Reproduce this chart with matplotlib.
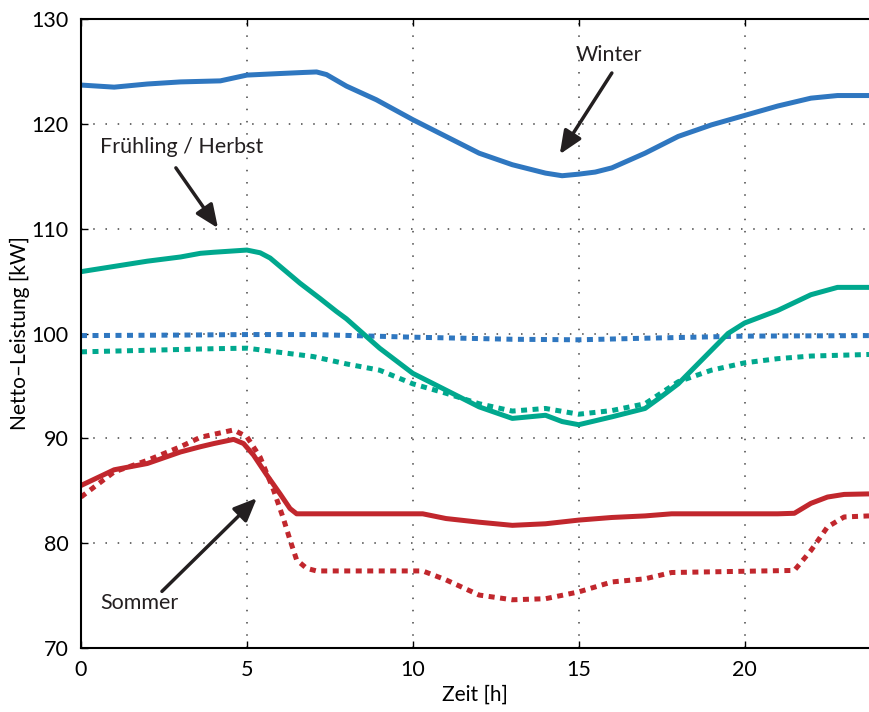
import numpy as np
import matplotlib.pyplot as plt

plt.rcParams['font.family'] = ['Lato', 'DejaVu Sans']

# Winter
winter_x = [0, 1, 2, 3, 4.2, 5, 6, 6.7, 7.1, 7.4, 8, 8.9, 10, 11, 12, 13, 14, 14.5, 15, 15.5, 16, 17, 18, 19, 20, 21, 22, 22.8, 23.75]
winter = [123.7, 123.5, 123.8, 124.0, 124.1, 124.65, 124.8, 124.9, 124.95, 124.7, 123.6, 122.3, 120.4, 118.8, 117.2, 116.1, 115.3, 115.05, 115.2, 115.4, 115.8, 117.2, 118.8, 119.9, 120.8, 121.7, 122.45, 122.7, 122.7]
winter_dot_x = [0, 3, 5, 7, 10, 13, 15, 17, 20, 23.75]
winter_dot = [99.8, 99.85, 99.9, 99.9, 99.65, 99.45, 99.4, 99.55, 99.75, 99.8]

# Frühling / Herbst
fh_x = [0, 1, 2, 3, 3.6, 4, 5, 5.4, 5.7, 6, 6.6, 7.2, 7.7, 8, 9, 10, 11, 12, 13, 13.5, 14, 14.5, 15, 16, 17, 17.5, 18, 19, 19.5, 20, 21, 22, 22.8, 23.75]
fh = [105.9, 106.4, 106.9, 107.3, 107.65, 107.75, 107.96, 107.7, 107.2, 106.4, 104.8, 103.35, 102.1, 101.4, 98.6, 96.2, 94.6, 93.0, 91.9, 92.05, 92.2, 91.6, 91.3, 92.05, 92.85, 94.0, 95.2, 98.4, 100.0, 101.0, 102.2, 103.7, 104.4, 104.4]
fh_dot_x = [0, 2, 4, 5, 6, 7, 8, 9, 10, 11, 12, 13, 14, 15, 16, 17, 18, 19, 20, 21, 22, 23.75]
fh_dot = [98.25, 98.4, 98.55, 98.6, 98.2, 97.8, 97.1, 96.5, 95.2, 94.3, 93.3, 92.6, 92.85, 92.3, 92.65, 93.3, 95.4, 96.5, 97.2, 97.6, 97.85, 98.0]

# Sommer
so_x = [0, 1, 2, 3, 3.6, 4, 4.6, 4.9, 5.2, 5.6, 6.0, 6.3, 6.5, 7, 10, 10.3, 11, 12, 13, 14, 15, 16, 17, 17.8, 21, 21.5, 22, 22.5, 23, 23.75]
so = [85.5, 87.0, 87.6, 88.7, 89.2, 89.5, 89.9, 89.5, 88.4, 86.5, 84.7, 83.3, 82.8, 82.8, 82.8, 82.8, 82.35, 82.0, 81.7, 81.85, 82.2, 82.45, 82.6, 82.8, 82.8, 82.85, 83.8, 84.4, 84.65, 84.7]
so_dot_x = [0, 1, 2, 3, 3.6, 4.6, 5.0, 5.4, 5.8, 6.1, 6.3, 6.5, 6.8, 7.1, 10.3, 11, 12, 13, 14, 15, 16, 17, 17.8, 21.5, 22, 22.5, 23, 23.75]
so_dot = [84.4, 86.8, 87.9, 89.2, 90.1, 90.8, 90.15, 88.2, 85.1, 82.35, 80.3, 78.4, 77.6, 77.35, 77.35, 76.5, 75.05, 74.6, 74.7, 75.35, 76.3, 76.6, 77.2, 77.4, 79.3, 81.55, 82.5, 82.6]

blue = '#2F77C0'
green = '#00A88E'
red = '#C1272D'
ink = '#231F20'

fig = plt.figure(figsize=(8.69, 7.12), dpi=100)
ax = fig.add_axes([0.0932, 0.0899, 0.9068, 0.8834])

lw = 3.6
dots = (0, (1.2, 1.1))
style = dict(lw=lw, solid_capstyle='butt', solid_joinstyle='round', dash_capstyle='butt')
ax.plot(winter_x, winter, color=blue, **style)
ax.plot(winter_dot_x, winter_dot, color=blue, ls=dots, **style)
ax.plot(fh_x, fh, color=green, **style)
ax.plot(fh_dot_x, fh_dot, color=green, ls=dots, **style)
ax.plot(so_x, so, color=red, **style)
ax.plot(so_dot_x, so_dot, color=red, ls=dots, **style)

arrow = dict(arrowstyle='-|>,head_length=1.4,head_width=0.6', color=ink, lw=2.5, shrinkA=0, shrinkB=0)
ax.annotate('', xy=(14.43, 117.1), xytext=(16.0, 124.85), arrowprops=arrow)
ax.text(15.9, 126.6, 'Winter', fontsize=15.5, ha='center', va='center', color=ink)
ax.annotate('', xy=(4.13, 110.05), xytext=(2.86, 115.8), arrowprops=arrow)
ax.text(0.57, 117.8, 'Frühling / Herbst', fontsize=15.5, ha='left', va='center', color=ink)
ax.annotate('', xy=(5.3, 84.3), xytext=(2.44, 75.4), arrowprops=arrow)
ax.text(0.57, 74.3, 'Sommer', fontsize=15.5, ha='left', va='center', color=ink)

ax.set_xlim(0, 23.75)
ax.set_ylim(70, 130)
ax.set_xticks([0, 5, 10, 15, 20])
ax.set_yticks([70, 80, 90, 100, 110, 120, 130])
ax.tick_params(direction='in', labelsize=15.5, length=5, width=1, top=True)
ax.tick_params(axis='y', pad=9)
ax.tick_params(axis='x', pad=9)
ax.grid(True, ls=(0, (1, 7)), color='#444444', lw=1.1)
ax.spines['right'].set_visible(False)
for s in ['left', 'bottom', 'top']:
    ax.spines[s].set_linewidth(1.5)
ax.set_xlabel('Zeit [h]', fontsize=15, labelpad=3)
ax.set_ylabel('Netto\u2013Leistung [kW]', fontsize=15, labelpad=1)

plt.savefig('out.png', dpi=100)
